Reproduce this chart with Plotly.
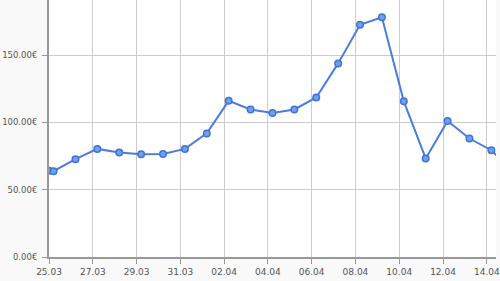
import plotly.graph_objects as go

dates = ["2013-03-25 00:00", "2013-03-25 05:00", "2013-03-26 05:00", "2013-03-27 05:00", "2013-03-28 05:00",
         "2013-03-29 05:00", "2013-03-30 05:00", "2013-03-31 05:00", "2013-04-01 05:00",
         "2013-04-02 05:00", "2013-04-03 05:00", "2013-04-04 05:00", "2013-04-05 05:00",
         "2013-04-06 05:00", "2013-04-07 05:00", "2013-04-08 05:00", "2013-04-09 05:00",
         "2013-04-10 05:00", "2013-04-11 05:00", "2013-04-12 05:00", "2013-04-13 05:00",
         "2013-04-14 05:00", "2013-04-15 05:00"]
values = [64.0, 63.7, 72.7, 80.3, 77.6, 76.4, 76.6, 80.3, 91.8, 116.0, 109.6, 106.9, 109.6,
          118.5, 143.8, 172.5, 178.0, 115.6, 73.2, 101.1, 88.0, 79.3, 63.0]

x_range = ["2013-03-25 00:00", "2013-04-14 10:05"]
y_range = [0, 190.9]

line_color = "#4a7edb"

fig = go.Figure()
fig.add_trace(go.Scatter(
    x=dates, y=values, mode="lines+markers",
    line=dict(color=line_color, width=2),
    marker=dict(size=6.5, color="#739ee8", line=dict(color="#3f73d6", width=1.5)),
    cliponaxis=True,
    hoverinfo="skip",
))

font = dict(family="DejaVu Sans", size=8.5, color="#555555")
xfont = dict(family="DejaVu Sans", size=9, color="#555555")

fig.update_layout(
    width=500, height=281,
    margin=dict(l=49, r=0, t=0, b=24),
    paper_bgcolor="#f9f9f9",
    plot_bgcolor="#ffffff",
    showlegend=False,
    font=font,
)
fig.update_xaxes(
    type="date", range=x_range,
    tick0="2013-03-25", dtick=2 * 86400000, tickformat="%d.%m",
    showgrid=True, gridcolor="#cccccc", gridwidth=1,
    showline=True, linecolor="#999999", linewidth=2,
    ticks="outside", ticklen=5, tickcolor="#999999", tickwidth=1,
    zeroline=False, tickfont=xfont, ticklabeloverflow="allow",
)
fig.update_yaxes(
    range=y_range, dtick=50, tick0=0, tickformat=".2f", ticksuffix="€",
    showgrid=True, gridcolor="#cccccc", gridwidth=1,
    showline=True, linecolor="#999999", linewidth=2,
    ticks="outside", ticklen=5, tickcolor="#999999", tickwidth=1,
    zeroline=False, tickfont=font, ticklabelstandoff=3,
)

fig.write_html("out.html")
